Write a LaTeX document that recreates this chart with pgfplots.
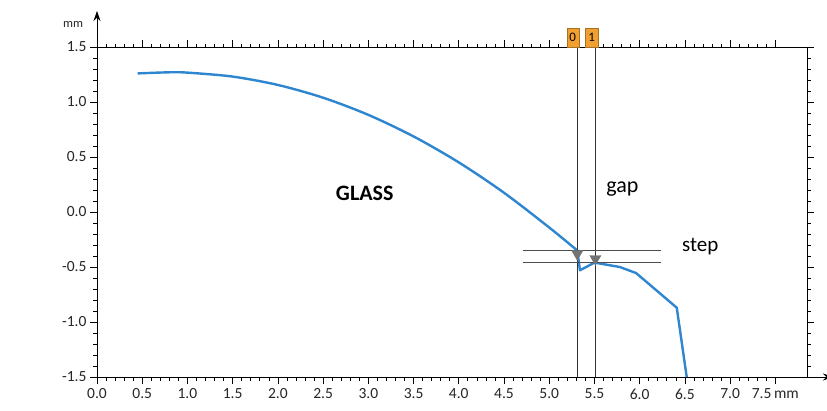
\documentclass[border=0pt]{standalone}
\usepackage{pgfplots}
\pgfplotsset{compat=1.18}
\usepackage{fontspec}
\setmainfont{Carlito}
\usetikzlibrary{arrows.meta}
\definecolor{curve}{HTML}{2E86D1}
\definecolor{mark}{HTML}{F0A030}
\begin{document}
\begin{tikzpicture}[x=1pt,y=1pt]
\useasboundingbox (-97,-33) rectangle (730,377);
\begin{axis}[
  at={(0,0)}, anchor=south west,
  scale only axis, width=710pt, height=330pt,
  xmin=0, xmax=7.85, ymin=-1.5, ymax=1.5,
  clip=false,
  axis line style={black, line width=0.8pt},
  xtick={0,0.5,...,7.5},
  xticklabels={0.0,0.5,1.0,1.5,2.0,2.5,3.0,3.5,4.0,4.5,5.0,5.5,6.0,6.5,7.0,{7.5\,mm}},
  ytick={-1.5,-1,-0.5,0,0.5,1,1.5},
  yticklabels={-1.5,-1.0,-0.5,0.0,0.5,1.0,1.5},
  minor x tick num=4, minor y tick num=4,
  tick align=outside,
  major tick length=7pt, minor tick length=3.5pt,
  tick style={black, line width=0.7pt},
  ticklabel style={font=\fontsize{15.5}{17}\selectfont, text=black!85},
  /pgf/number format/assume math mode=true,
  xticklabel style={yshift=-1pt},
]
% profile
\addplot[curve, line width=2.4pt, line join=round, smooth, tension=0.5] coordinates {
(0.45,1.260) (0.80,1.270) (1.00,1.267) (1.50,1.231) (2.00,1.155) (2.50,1.039)
(3.00,0.883) (3.50,0.687) (4.00,0.451) (4.50,0.175) (5.00,-0.141) (5.31,-0.350)
};
\addplot[curve, line width=2.4pt, line join=round] coordinates {
(5.31,-0.35) (5.34,-0.53) (5.50,-0.46) (5.78,-0.50) (5.96,-0.555) (6.41,-0.87) (6.52,-1.5)
};
% cursor lines
\addplot[black!80, line width=0.8pt] coordinates {(5.31,-1.5) (5.31,1.5)};
\addplot[black!80, line width=0.8pt] coordinates {(5.51,-1.5) (5.51,1.5)};
\addplot[black!70, line width=0.8pt] coordinates {(4.71,-0.345) (6.24,-0.345)};
\addplot[black!70, line width=0.8pt] coordinates {(4.71,-0.457) (6.24,-0.457)};
\addplot[only marks, mark=triangle*, mark size=6.5pt, mark options={rotate=180, fill=black!55, draw=black!55}]
  coordinates {(5.31,-0.38) (5.51,-0.425)};
% labels
\node[font=\fontsize{22}{24}\selectfont\bfseries] at (axis cs:2.96,0.17) {GLASS};
\node[font=\fontsize{22}{24}\selectfont] at (axis cs:5.81,0.21) {gap};
\node[font=\fontsize{21}{24}\selectfont] at (axis cs:6.67,-0.31) {step};
% cursor flags
\node[fill=mark, draw=mark!70!black, line width=0.4pt, inner sep=0pt, minimum width=12pt, minimum height=19pt, anchor=south, font=\fontsize{13}{14}\selectfont]
  at (axis cs:5.26,1.5) {0};
\node[fill=mark, draw=mark!70!black, line width=0.4pt, inner sep=0pt, minimum width=13pt, minimum height=19pt, anchor=south, font=\fontsize{13}{14}\selectfont]
  at (axis cs:5.47,1.5) {1};
\end{axis}
% axis arrows (axis box spans (0,0)--(710,330))
\draw[black, line width=0.8pt, -{Stealth[length=10pt,width=7pt]}] (0,330) -- (0,366);
\draw[black, line width=0.8pt, -{Stealth[length=10pt,width=7pt]}] (710,0) -- (736,0);
\node[font=\fontsize{12.5}{14}\selectfont, text=black!85] at (-24,353) {mm};
\end{tikzpicture}
\end{document}
